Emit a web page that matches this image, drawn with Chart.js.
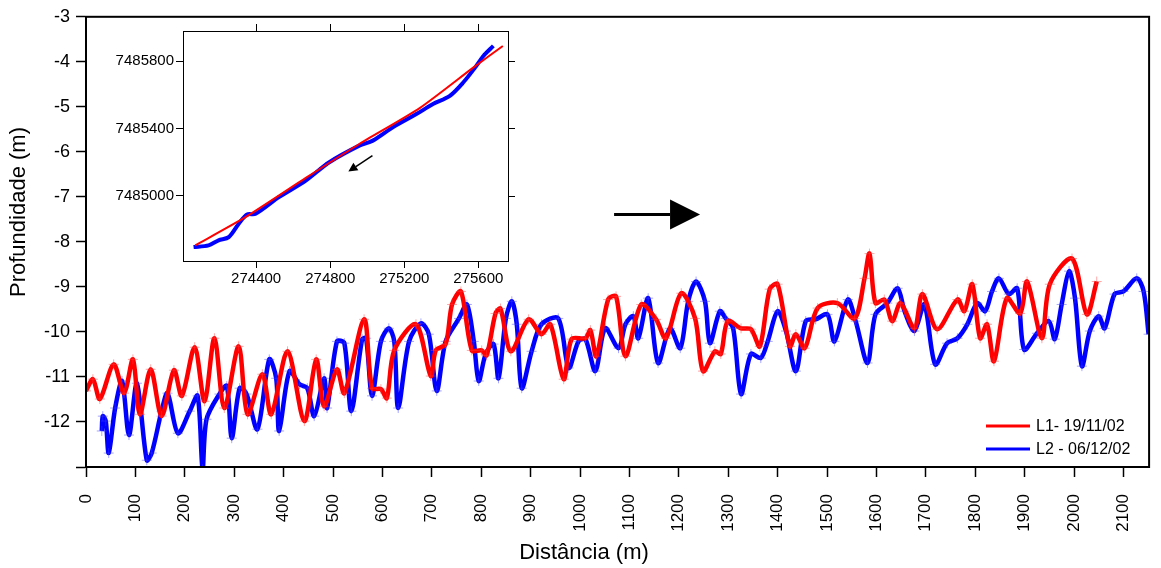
<!DOCTYPE html>
<html lang="pt">
<head>
<meta charset="utf-8">
<title>Perfis L1 / L2</title>
<script src="https://cdn.jsdelivr.net/npm/chart.js@4.4.1/dist/chart.umd.min.js"></script>
<style>
  html, body { margin: 0; padding: 0; background: #fff; }
  #wrap { position: relative; width: 1161px; height: 568px; }
  #main { position: absolute; left: 0; top: 0; }
  #inset { position: absolute; left: 90px; top: 20px; }
</style>
</head>
<body>
<div id="wrap">
  <canvas id="main" width="1161" height="568"></canvas>
  <canvas id="inset" width="435" height="275"></canvas>
</div>
<script>
// perfil L1 - 19/11/02 (distância m, profundidade m)
const distL1 = [0, 14, 28, 56, 77, 95, 109, 131, 153, 178, 194, 220, 240, 260, 280, 309, 327, 357, 375, 408,
  442, 466, 482, 508, 523, 563, 579, 597, 609, 624, 668, 698, 708, 728, 741, 759, 781, 801, 811, 829,
  839, 860, 896, 922, 940, 967, 983, 1011, 1021, 1033, 1057, 1073, 1092, 1124, 1154, 1174, 1205, 1233, 1249, 1273,
  1285, 1299, 1326, 1346, 1364, 1384, 1400, 1425, 1437, 1455, 1481, 1521, 1556, 1576, 1586, 1598, 1616, 1632, 1649, 1677,
  1693, 1723, 1764, 1778, 1794, 1810, 1824, 1838, 1864, 1891, 1905, 1935, 1951, 1996, 2026, 2046];
const profL1 = [-11.31, -11.05, -11.49, -10.72, -11.36, -10.61, -11.83, -10.83, -11.87, -10.85, -11.42, -10.34, -11.54, -10.14, -11.69, -10.32, -11.83, -10.94, -11.83, -10.43,
  -11.98, -10.61, -11.65, -10.83, -11.36, -9.72, -11.25, -11.27, -11.47, -10.41, -9.83, -10.98, -10.41, -10.27, -9.39, -9.10, -10.41, -10.41, -10.52, -9.59,
  -9.48, -10.43, -9.72, -10.05, -9.83, -11.05, -10.16, -10.14, -9.96, -10.54, -9.28, -9.21, -10.54, -9.39, -9.72, -10.14, -9.14, -9.70, -10.87, -10.43,
  -10.49, -9.76, -9.92, -9.94, -10.32, -9.05, -8.94, -10.32, -10.05, -10.36, -9.47, -9.36, -9.70, -8.81, -8.26, -9.36, -9.28, -9.76, -9.36, -9.92,
  -9.16, -9.94, -9.28, -9.54, -8.94, -10.14, -9.83, -10.65, -9.25, -9.59, -8.88, -10.14, -8.94, -8.37, -9.61, -8.88];

// perfil L2 - 06/12/02
const distL2 = [32, 34, 40, 46, 59, 73, 87, 103, 123, 133, 153, 165, 186, 210, 226, 236, 244, 270, 285, 295,
  311, 325, 347, 371, 385, 391, 412, 432, 448, 462, 482, 488, 508, 523, 537, 559, 567, 579, 597, 613,
  624, 632, 654, 678, 694, 710, 728, 755, 771, 785, 795, 809, 825, 835, 850, 862, 872, 882, 902, 922,
  956, 977, 997, 1011, 1031, 1051, 1078, 1092, 1108, 1118, 1138, 1158, 1182, 1203, 1219, 1235, 1253, 1263, 1283, 1295,
  1310, 1326, 1346, 1366, 1380, 1400, 1417, 1437, 1457, 1477, 1501, 1515, 1542, 1558, 1582, 1598, 1622, 1643, 1657, 1677,
  1697, 1719, 1743, 1764, 1784, 1804, 1820, 1834, 1848, 1868, 1885, 1899, 1925, 1949, 1961, 1975, 1990, 2002, 2016, 2032,
  2050, 2062, 2082, 2100, 2127, 2141, 2151];
const profL2 = [-12.20, -11.87, -11.98, -12.69, -11.69, -11.09, -12.29, -11.14, -12.85, -12.69, -11.76, -11.36, -12.25, -11.76, -11.42, -13.05, -11.94, -11.38, -11.20, -12.36,
  -11.25, -11.38, -12.16, -10.61, -11.03, -12.20, -10.87, -11.16, -11.25, -11.87, -11.03, -11.69, -10.21, -10.25, -11.76, -10.16, -10.14, -11.42, -10.21, -9.92,
  -10.21, -11.69, -10.21, -9.81, -10.05, -11.31, -10.21, -9.70, -9.39, -10.21, -11.09, -10.49, -10.27, -11.03, -9.70, -9.32, -9.83, -11.25, -10.43, -9.83,
  -9.70, -10.80, -10.21, -10.16, -10.87, -9.92, -10.36, -9.83, -9.65, -10.14, -9.25, -10.69, -9.92, -10.36, -9.32, -8.88, -9.32, -10.25, -9.54, -9.70,
  -9.92, -11.38, -10.49, -10.58, -10.21, -9.54, -9.98, -10.87, -9.76, -9.72, -9.61, -10.21, -9.28, -9.76, -10.69, -9.61, -9.36, -9.03, -9.54, -9.98,
  -9.39, -10.72, -10.25, -10.14, -9.83, -9.36, -9.54, -9.10, -8.81, -9.16, -9.03, -10.39, -10.03, -9.76, -10.16, -9.39, -8.65, -9.25, -10.76, -9.98,
  -9.65, -9.92, -9.16, -9.10, -8.81, -9.10, -10.05];

const distTicks = [0, 100, 200, 300, 400, 500, 600, 700, 800, 900, 1000, 1100, 1200, 1300, 1400, 1500, 1600, 1700, 1800, 1900, 2000, 2100];
const profTicks = [-13, -12, -11, -10, -9, -8, -7, -6, -5, -4, -3];

// detalhe: posição das linhas (UTM E / N)
const insetEastL1 = [274071, 274342, 274668, 274957, 275283, 275572, 275732];
const insetNorthL1 = [7484703, 7484871, 7485105, 7485307, 7485521, 7485762, 7485891];
const insetEastL2 = [274062, 274143, 274197, 274252, 274306, 274351, 274397, 274523, 274668, 274795, 274957, 275030, 275138, 275265, 275355, 275446, 275518, 275582, 275627, 275681];
const insetNorthL2 = [7484693, 7484703, 7484733, 7484752, 7484832, 7484887, 7484891, 7484990, 7485089, 7485198, 7485297, 7485327, 7485406, 7485485, 7485545, 7485594, 7485673, 7485762, 7485831, 7485891];
const insetEastTicks = [274400, 274800, 275200, 275600];
const insetNorthTicks = [7485000, 7485400, 7485800];

// setas (em coordenadas dos dados)
const mainArrow = { from: [1069, -7.39], to: [1243, -7.39] };
const insetArrow = { from: [275028, 7485238], to: [274898, 7485143] };

const FONT = "Arial, 'Liberation Sans', sans-serif";
Chart.defaults.font.family = FONT;
Chart.defaults.color = '#000';

const toXY = (xs, ys) => xs.map((x, i) => ({ x, y: ys[i] }));

function drawArrow(ctx, x1, y1, x2, y2, headLen, headHalf, lw) {
    const ang = Math.atan2(y2 - y1, x2 - x1);
    const bx = x2 - headLen * Math.cos(ang), by = y2 - headLen * Math.sin(ang);
    ctx.save();
    ctx.strokeStyle = '#000';
    ctx.fillStyle = '#000';
    ctx.lineWidth = lw;
    ctx.beginPath(); ctx.moveTo(x1, y1); ctx.lineTo(bx, by); ctx.stroke();
    ctx.beginPath();
    ctx.moveTo(x2, y2);
    ctx.lineTo(bx + headHalf * Math.sin(ang), by - headHalf * Math.cos(ang));
    ctx.lineTo(bx - headHalf * Math.sin(ang), by + headHalf * Math.cos(ang));
    ctx.closePath(); ctx.fill();
    ctx.restore();
}

// moldura, títulos, legenda e seta do gráfico principal
const mainExtras = {
    id: 'mainExtras',
    afterDatasetsDraw(chart) {
        const { ctx, chartArea: a, scales } = chart;
        ctx.save();
        ctx.strokeStyle = '#000';
        ctx.lineWidth = 2;
        ctx.strokeRect(a.left, a.top, a.right - a.left, a.bottom - a.top);

        ctx.fillStyle = '#000';
        ctx.font = '22px ' + FONT;
        ctx.textAlign = 'center';
        ctx.textBaseline = 'middle';
        ctx.fillText('Distância (m)', 584, 553);
        ctx.translate(19, 212);
        ctx.rotate(-Math.PI / 2);
        ctx.fillText('Profundidade (m)', 0, 0);
        ctx.restore();

        // legenda
        ctx.save();
        ctx.font = '16px ' + FONT;
        ctx.textBaseline = 'middle';
        chart.data.datasets.forEach((ds, i) => {
            const y = a.bottom - 41 + i * 23;
            ctx.strokeStyle = ds.borderColor;
            ctx.lineWidth = 3;
            ctx.beginPath(); ctx.moveTo(986, y); ctx.lineTo(1030, y); ctx.stroke();
            ctx.fillStyle = '#000';
            ctx.fillText(ds.label, 1036, y + 1);
        });
        ctx.restore();

        const x = scales.x, y = scales.y;
        drawArrow(ctx, x.getPixelForValue(mainArrow.from[0]), y.getPixelForValue(mainArrow.from[1]),
            x.getPixelForValue(mainArrow.to[0]), y.getPixelForValue(mainArrow.to[1]), 30, 15, 3);
    }
};

new Chart(document.getElementById('main'), {
    type: 'scatter',
    data: {
        datasets: [
            { label: 'L1- 19/11/02', data: toXY(distL1, profL1), showLine: true, borderColor: '#ff0000', borderWidth: 4.5, tension: 0.3,
              pointStyle: 'cross', pointRadius: 5, pointBorderWidth: 1, pointBorderColor: 'rgba(255,60,60,0.45)', pointHoverRadius: 0 },
            { label: 'L2 - 06/12/02', data: toXY(distL2, profL2), showLine: true, borderColor: '#0000ff', borderWidth: 4.5, tension: 0.3,
              pointStyle: 'cross', pointRadius: 5, pointBorderWidth: 1, pointBorderColor: 'rgba(60,60,255,0.45)', pointHoverRadius: 0 }
        ]
    },
    options: {
        responsive: false,
        animation: false,
        layout: { padding: { top: 15, right: 8, left: 0, bottom: 0 } },
        plugins: { legend: { display: false }, tooltip: { enabled: false } },
        scales: {
            x: {
                type: 'linear', min: 0, max: 2152,
                afterFit(s) { s.height = 101; },
                afterBuildTicks(s) { s.ticks = distTicks.map(v => ({ value: v })); },
                ticks: { minRotation: 90, maxRotation: 90, padding: 17, font: { size: 17 }, color: '#000', callback: v => String(v) },
                grid: { display: true, drawOnChartArea: false, drawTicks: true, tickLength: 10, tickColor: '#000', tickWidth: 1.5 },
                border: { display: true, color: '#000', width: 2 }
            },
            y: {
                type: 'linear', min: -13, max: -3,
                afterFit(s) { s.width = 86; },
                afterBuildTicks(s) { s.ticks = profTicks.map(v => ({ value: v })); },
                ticks: { padding: 6, font: { size: 18 }, color: '#000', callback: v => (v === -13 ? '' : String(v)) },
                grid: { display: true, drawOnChartArea: false, drawTicks: true, tickLength: 10, tickColor: '#000', tickWidth: 1.5 },
                border: { display: true, color: '#000', width: 2 }
            }
        }
    },
    plugins: [mainExtras]
});

// caixa, marcas de topo/direita e seta do detalhe
const insetExtras = {
    id: 'insetExtras',
    beforeDatasetsDraw(chart) {
        const { ctx, chartArea: a } = chart;
        ctx.save();
        ctx.fillStyle = '#fff';
        ctx.fillRect(a.left, a.top, a.right - a.left, a.bottom - a.top);
        ctx.restore();
    },
    afterDatasetsDraw(chart) {
        const { ctx, chartArea: a, scales } = chart;
        ctx.save();
        ctx.strokeStyle = '#000';
        ctx.lineWidth = 1;
        ctx.strokeRect(a.left + 0.5, a.top + 0.5, a.right - a.left, a.bottom - a.top);
        ctx.beginPath();
        scales.x.ticks.forEach(t => {
            const px = Math.round(scales.x.getPixelForValue(t.value)) + 0.5;
            ctx.moveTo(px, a.top); ctx.lineTo(px, a.top - 7);
        });
        scales.y.ticks.forEach(t => {
            const py = Math.round(scales.y.getPixelForValue(t.value)) + 0.5;
            ctx.moveTo(a.right, py); ctx.lineTo(a.right + 7, py);
        });
        ctx.stroke();
        ctx.restore();
        const x = scales.x, y = scales.y;
        drawArrow(ctx, x.getPixelForValue(insetArrow.from[0]), y.getPixelForValue(insetArrow.from[1]),
            x.getPixelForValue(insetArrow.to[0]), y.getPixelForValue(insetArrow.to[1]), 9, 4.5, 1.5);
    }
};

new Chart(document.getElementById('inset'), {
    type: 'scatter',
    data: {
        datasets: [
            { data: toXY(insetEastL1, insetNorthL1), showLine: true, borderColor: '#ff0000', borderWidth: 2, tension: 0.2, pointRadius: 0 },
            { data: toXY(insetEastL2, insetNorthL2), showLine: true, borderColor: '#0000ff', borderWidth: 4, tension: 0.3, pointRadius: 0 }
        ]
    },
    options: {
        responsive: false,
        animation: false,
        layout: { padding: { top: 10, right: 17, left: 0, bottom: 0 } },
        plugins: { legend: { display: false }, tooltip: { enabled: false } },
        scales: {
            x: {
                type: 'linear', min: 274005, max: 275760,
                afterFit(s) { s.height = 34; },
                afterBuildTicks(s) { s.ticks = insetEastTicks.map(v => ({ value: v })); },
                ticks: { maxRotation: 0, padding: 2, font: { size: 15 }, color: '#000', callback: v => String(v) },
                grid: { display: true, drawOnChartArea: false, drawTicks: true, tickLength: 7, tickColor: '#000' },
                border: { display: true, color: '#000', width: 1 }
            },
            y: {
                type: 'linear', min: 7484610, max: 7485980,
                afterFit(s) { s.width = 93; },
                afterBuildTicks(s) { s.ticks = insetNorthTicks.map(v => ({ value: v })); },
                ticks: { padding: 2, font: { size: 15 }, color: '#000', callback: v => String(v) },
                grid: { display: true, drawOnChartArea: false, drawTicks: true, tickLength: 7, tickColor: '#000' },
                border: { display: true, color: '#000', width: 1 }
            }
        }
    },
    plugins: [insetExtras]
});
</script>
</body>
</html>
